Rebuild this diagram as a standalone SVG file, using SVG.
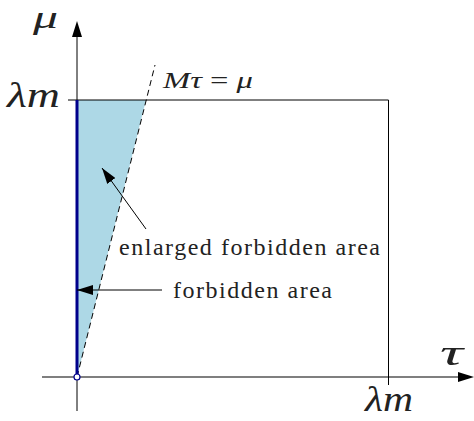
<svg xmlns="http://www.w3.org/2000/svg" width="474" height="421" viewBox="0 0 474 421">
<style>
text{font-family:"Liberation Serif","Times New Roman",serif;fill:#222}
.m{font-style:italic}
.ln{stroke:#000;stroke-width:1;fill:none}
</style>
<defs>
<marker id="ah" markerWidth="16" markerHeight="10" refX="16" refY="5" orient="auto" markerUnits="userSpaceOnUse">
<path d="M0,0 L16,5 L0,10 Z" fill="#000"/>
</marker>
</defs>
<g id="region">
<polygon points="77,100 146,100 77,377" fill="#add8e6"/>
</g>
<g id="connectors">
<line class="ln" x1="77" y1="411" x2="77" y2="36"/>
<polygon points="77,21 72,37 82,37" fill="#000"/>
<line x1="42" y1="377" x2="459" y2="377" stroke="#555" stroke-width="1.6"/>
<polygon points="474,377 458,372 458,382" fill="#000"/>
<polyline class="ln" points="68,100 388.5,100 388.5,385"/>
<line x1="77" y1="377" x2="155" y2="65" stroke="#000" stroke-width="1" stroke-dasharray="6,4"/>
<line x1="77" y1="100" x2="77" y2="377" stroke="#00008b" stroke-width="3"/>
<circle cx="77" cy="377" r="3" fill="#fff" stroke="#00008b" stroke-width="1.2"/>
<line class="ln" x1="146" y1="229" x2="102" y2="168" marker-end="url(#ah)"/>
<line class="ln" x1="162" y1="290" x2="77" y2="290" marker-end="url(#ah)"/>
</g>
<g id="labels">
<text class="m" x="33" y="28" font-size="31" textLength="25" lengthAdjust="spacingAndGlyphs">μ</text>
<text class="m" x="7" y="107" font-size="35" textLength="53" lengthAdjust="spacingAndGlyphs">λm</text>
<text x="163" y="88" font-size="24" textLength="90" lengthAdjust="spacingAndGlyphs"><tspan class="m">Mτ</tspan> = <tspan class="m">μ</tspan></text>
<text class="m" x="440" y="365" font-size="36" textLength="23" lengthAdjust="spacingAndGlyphs">τ</text>
<text class="m" x="365" y="411" font-size="35" textLength="48" lengthAdjust="spacingAndGlyphs">λm</text>
<text x="119" y="255" font-size="24" textLength="261" lengthAdjust="spacing">enlarged forbidden area</text>
<text x="173" y="298" font-size="24" textLength="159" lengthAdjust="spacing">forbidden area</text>
</g>
</svg>
